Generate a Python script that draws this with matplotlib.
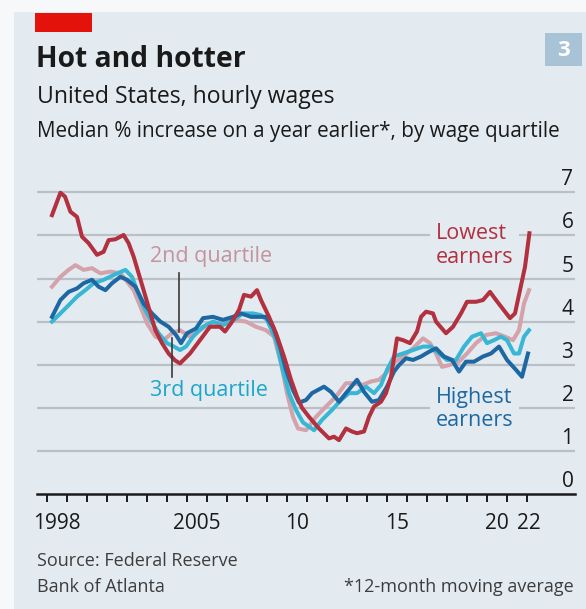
import matplotlib
matplotlib.use("Agg")
import matplotlib.pyplot as plt
from matplotlib.patches import Rectangle
from matplotlib.transforms import blended_transform_factory

plt.rcParams['font.family'] = ['Open Sans', 'DejaVu Sans']

# --- data (year, % increase) ---
lowest_years = [1998.25, 1998.67, 1998.9, 1999.17, 1999.5, 1999.75, 2000.08, 2000.5, 2000.83,
                2001.08, 2001.42, 2001.83, 2002.08, 2002.33, 2002.58, 2002.83, 2003.17, 2003.42,
                2003.75, 2004.08, 2004.4, 2004.65, 2005.15, 2005.65, 2006.15, 2006.65, 2006.9,
                2007.2, 2007.6, 2007.85, 2008.2, 2008.5, 2008.7, 2009.1, 2009.45, 2009.85,
                2010.2, 2010.5, 2010.75, 2011.1, 2011.6, 2012.1, 2012.35, 2012.6, 2012.95,
                2013.25, 2013.5, 2013.85, 2014.1, 2014.35, 2014.7, 2014.95, 2015.2, 2015.5,
                2015.8, 2016.15, 2016.5, 2016.7, 2016.95, 2017.3, 2017.45, 2017.95, 2018.3,
                2018.7, 2019.0, 2019.45, 2019.8, 2020.15, 2020.45, 2020.9, 2021.15, 2021.4,
                2021.65, 2021.9, 2022.12]
lowest = [6.47, 6.99, 6.9, 6.55, 6.43, 5.97, 5.82, 5.55, 5.62,
          5.89, 5.91, 6.01, 5.82, 5.51, 5.12, 4.73, 4.19, 3.80,
          3.50, 3.26, 3.10, 3.03, 3.26, 3.57, 3.88, 3.88, 3.77,
          3.96, 4.27, 4.62, 4.58, 4.73, 4.50, 4.11, 3.73, 3.19,
          2.65, 2.26, 2.00, 1.79, 1.52, 1.29, 1.33, 1.25, 1.52,
          1.45, 1.41, 1.45, 1.79, 2.03, 2.14, 2.34, 2.72, 3.61,
          3.57, 3.50, 3.77, 4.11, 4.23, 4.19, 4.00, 3.73, 3.88,
          4.19, 4.46, 4.46, 4.50, 4.69, 4.50, 4.23, 4.08, 4.19,
          4.73, 5.27, 6.05]

q2_years = [1998.25, 1998.67, 1999.08, 1999.42, 1999.83, 2000.25, 2000.67, 2001.17, 2001.67,
            2002.0, 2002.33, 2002.67, 2003.0, 2003.42, 2003.83, 2004.3, 2004.65, 2005.15,
            2005.65, 2006.15, 2006.8, 2007.45, 2007.95, 2008.45, 2008.95, 2009.35, 2009.7,
            2010.0, 2010.3, 2010.55, 2010.95, 2011.45, 2011.95, 2012.45, 2012.95, 2013.35,
            2013.75, 2014.2, 2014.6, 2014.95, 2015.3, 2015.8, 2016.3, 2016.8, 2017.15,
            2017.45, 2017.75, 2018.1, 2018.6, 2019.0, 2019.45, 2019.95, 2020.45, 2020.9,
            2021.3, 2021.6, 2021.85, 2022.1]
q2 = [4.81, 5.04, 5.20, 5.31, 5.20, 5.24, 5.12, 5.16, 5.12,
      4.93, 4.73, 4.35, 3.96, 3.65, 3.57, 3.75, 3.80, 3.65,
      3.80, 3.96, 3.96, 4.04, 4.00, 3.88, 3.80, 3.65, 3.03,
      2.34, 1.79, 1.52, 1.48, 1.79, 2.03, 2.26, 2.57, 2.57,
      2.53, 2.61, 2.65, 2.80, 3.03, 3.19, 3.38, 3.61, 3.50,
      3.26, 2.95, 2.99, 3.07, 3.26, 3.50, 3.69, 3.73, 3.65,
      3.57, 3.80, 4.42, 4.73]

q3_years = [1998.25, 1998.67, 1999.08, 1999.5, 1999.92, 2000.33, 2000.83, 2001.33, 2001.92,
            2002.25, 2002.5, 2002.83, 2003.17, 2003.58, 2004.0, 2004.35, 2004.65, 2004.95,
            2005.3, 2005.8, 2006.3, 2006.8, 2007.2, 2007.8, 2008.3, 2008.7, 2009.0,
            2009.45, 2009.75, 2010.1, 2010.45, 2010.8, 2011.35, 2011.75, 2012.25, 2012.7,
            2013.1, 2013.5, 2013.95, 2014.35, 2014.7, 2015.0, 2015.35, 2015.8, 2016.3,
            2016.8, 2017.2, 2017.6, 2018.0, 2018.45, 2018.85, 2019.25, 2019.7, 2020.0,
            2020.35, 2020.7, 2021.0, 2021.35, 2021.6, 2021.85, 2022.1]
q3 = [4.00, 4.19, 4.38, 4.58, 4.73, 4.89, 4.97, 5.08, 5.20,
      5.04, 4.73, 4.35, 4.04, 3.73, 3.50, 3.42, 3.34, 3.42,
      3.65, 3.88, 4.00, 3.92, 4.00, 4.19, 4.19, 4.15, 4.04,
      3.57, 2.95, 2.34, 1.95, 1.66, 1.48, 1.72, 1.95, 2.18,
      2.34, 2.34, 2.49, 2.34, 2.53, 2.88, 3.19, 3.26, 3.34,
      3.42, 3.42, 3.26, 3.11, 3.11, 3.42, 3.65, 3.73, 3.50,
      3.57, 3.65, 3.57, 3.26, 3.26, 3.65, 3.80]

highest_years = [1998.25, 1998.67, 1999.08, 1999.5, 1999.83, 2000.25, 2000.58, 2000.92, 2001.25,
                 2001.67, 2002.0, 2002.42, 2002.83, 2003.25, 2003.67, 2004.08, 2004.45, 2004.7,
                 2005.0, 2005.45, 2005.8, 2006.3, 2006.8, 2007.3, 2007.7, 2008.2, 2008.65,
                 2008.95, 2009.3, 2009.65, 2009.95, 2010.3, 2010.6, 2010.95, 2011.25, 2011.85,
                 2012.2, 2012.6, 2012.95, 2013.5, 2013.85, 2014.25, 2014.6, 2015.0, 2015.35,
                 2015.6, 2015.95, 2016.3, 2016.7, 2017.1, 2017.45, 2017.85, 2018.25, 2018.6,
                 2018.95, 2019.35, 2019.8, 2020.2, 2020.6, 2021.0, 2021.45, 2021.75, 2022.05]
highest = [4.11, 4.50, 4.69, 4.77, 4.89, 4.97, 4.81, 4.73, 4.89,
           5.04, 4.97, 4.81, 4.42, 4.19, 4.00, 3.88, 3.69, 3.50,
           3.73, 3.84, 4.08, 4.11, 4.04, 4.11, 4.19, 4.11, 4.11,
           4.11, 3.88, 3.42, 2.88, 2.41, 2.12, 2.18, 2.34, 2.49,
           2.37, 2.14, 2.34, 2.65, 2.37, 2.14, 2.18, 2.49, 2.84,
           2.99, 3.15, 3.11, 3.19, 3.30, 3.38, 3.19, 3.11, 2.84,
           3.07, 3.07, 3.19, 3.26, 3.42, 3.11, 2.88, 2.72, 3.26]

y_ticks = [0, 1, 2, 3, 4, 5, 6, 7]
x_label_years = [1998, 2005, 2010, 2015, 2020, 2022]
x_label_text = ['1998', '2005', '10', '15', '20', '22']

# --- colours ---
PANEL = '#e3ebf1'
GRID = '#b9c1c7'
RED = '#b3303f'
PINK = '#d3a2aa'
CYAN = '#38b7d4'
BLUE = '#1d68a3'
TEXT = '#1a1a1a'

W, H = 586, 609


def fx(x):
    return x / W


def fy(y):
    return 1 - y / H


fig = plt.figure(figsize=(W / 100, H / 100), dpi=100, facecolor='#f6f8f9')

# background panel, red tag and chart number
fig.patches.append(Rectangle((fx(14), 0), 1, fy(12), transform=fig.transFigure,
                             facecolor=PANEL, edgecolor='none', zorder=-5))
fig.patches.append(Rectangle((fx(35), fy(32)), 57 / W, 19 / H, transform=fig.transFigure,
                             facecolor='#e3120b', edgecolor='none'))
fig.patches.append(Rectangle((fx(545), fy(66)), 37 / W, 33 / H, transform=fig.transFigure,
                             facecolor='#a9c3d6', edgecolor='none'))
fig.text(fx(563.5), fy(50), '3', color='white', fontsize=16, fontweight='bold',
         ha='center', va='center')

fig.text(fx(36), fy(67), 'Hot and hotter', fontsize=20.3, fontweight='bold',
         color=TEXT, va='baseline')
fig.text(fx(37), fy(103), 'United States, hourly wages', fontsize=16.6,
         color=TEXT, va='baseline')
fig.text(fx(37), fy(137), 'Median % increase on a year earlier*, by wage quartile',
         fontsize=14.9, color=TEXT, va='baseline')

fig.text(fx(37), fy(566), 'Source: Federal Reserve', fontsize=13, color='#3d3d3d', va='baseline')
fig.text(fx(37), fy(592), 'Bank of Atlanta', fontsize=13, color='#3d3d3d', va='baseline')
fig.text(fx(574), fy(592), '*12-month moving average', fontsize=13, color='#3d3d3d',
         ha='right', va='baseline')

# --- chart ---
y_top = 7.3
px_per_unit = 43.1
ax = fig.add_axes([fx(37), fy(494), 538 / W, y_top * px_per_unit / H])
ax.set_facecolor('none')
ax.set_xlim(1997.5, 2024.4)
ax.set_ylim(0, y_top)
for s in ax.spines.values():
    s.set_visible(False)

for v in y_ticks[1:]:
    ax.axhline(v, color=GRID, lw=1.6, zorder=1)
ax.axhline(0, color=TEXT, lw=1.8, zorder=5, clip_on=False)

trans = blended_transform_factory(ax.transAxes, ax.transData)
for v in y_ticks:
    ax.text(0.997, v + 7 / px_per_unit, str(v), transform=trans, ha='right', va='baseline',
            fontsize=15, color=TEXT, zorder=6)
ax.set_yticks([])

ax.set_xticks(range(1998, 2023))
ax.tick_params(axis='x', which='major', length=6, width=1.4, color=TEXT, labelbottom=False)
label_pos = [y + 0.5 if y < 2022 else y + 0.07 for y in x_label_years]
ax.set_xticks(label_pos, minor=True)
ax.set_xticklabels(x_label_text, minor=True)
ax.tick_params(axis='x', which='minor', length=0, pad=14, labelsize=15, labelcolor=TEXT)

lw = 2.9
ax.plot(q2_years, q2, color=PINK, lw=lw, zorder=3, solid_joinstyle='round')
ax.plot(q3_years, q3, color=CYAN, lw=lw, zorder=3.1, solid_joinstyle='round')
ax.plot(highest_years, highest, color=BLUE, lw=lw, zorder=3.2, solid_joinstyle='round')
ax.plot(lowest_years, lowest, color=RED, lw=lw, zorder=3.3, solid_joinstyle='round')

# labels and leader lines
ax.plot([2004.6, 2004.6], [5.13, 3.76], color='#3a3a3a', lw=1.2, zorder=4)
ax.plot([2004.25, 2004.25], [3.62, 2.71], color='#3a3a3a', lw=1.2, zorder=4)
ax.text(2003.15, 5.5, '2nd quartile', color='#c4939b', fontsize=15.5, va='center', zorder=4)
ax.text(2003.15, 2.41, '3rd quartile', color='#1ca7c9', fontsize=15.5, va='center', zorder=4)
box = dict(facecolor=PANEL, edgecolor='none', pad=4)
ax.text(2017.45, 5.77, 'Lowest\nearners', color=RED, fontsize=15.5, va='center',
        linespacing=1.15, bbox=box, zorder=2)
ax.text(2017.45, 1.97, 'Highest\nearners', color=BLUE, fontsize=15.5, va='center',
        linespacing=1.15, bbox=box, zorder=2)

fig.savefig('out.png', dpi=100, facecolor=fig.get_facecolor())
